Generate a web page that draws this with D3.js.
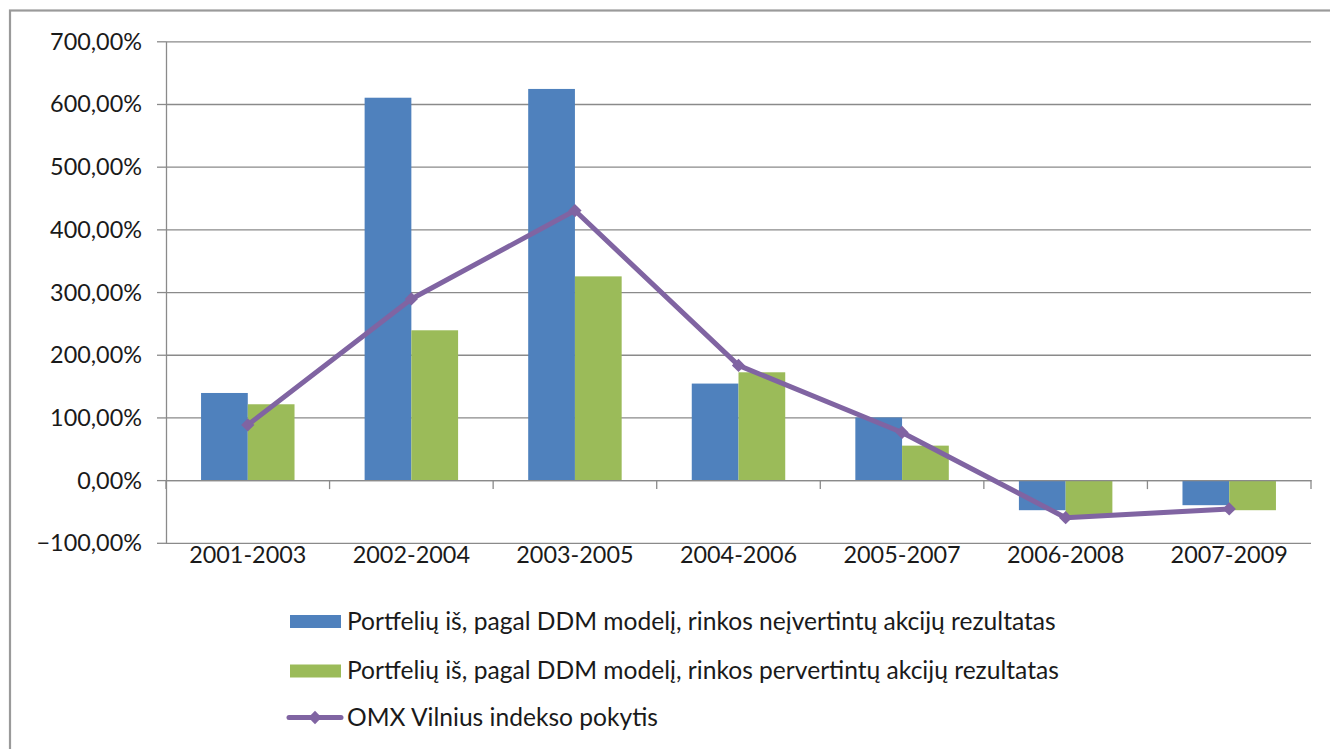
<!DOCTYPE html>
<html>
<head>
<meta charset="utf-8">
<script src="https://cdn.jsdelivr.net/npm/d3@7"></script>
<style>
  html, body { margin: 0; padding: 0; background: #fff; }
  svg { display: block; }
  text { font-family: Lato, "Open Sans", sans-serif; fill: #1a1a1a; }
</style>
</head>
<body>
<script>
const categories = ["2001-2003","2002-2004","2003-2005","2004-2006","2005-2007","2006-2008","2007-2009"];
const undervalued = [139, 610, 624, 154, 100, -48, -40];
const overvalued  = [121, 239, 325, 172, 55, -56, -48];
const omx         = [88, 289, 430, 183, 76, -60, -46];
const yTicks = [-100, 0, 100, 200, 300, 400, 500, 600, 700];
const seriesNames = [
  "Portfelių iš, pagal DDM modelį, rinkos neįvertintų akcijų rezultatas",
  "Portfelių iš, pagal DDM modelį, rinkos pervertintų akcijų rezultatas",
  "OMX Vilnius indekso pokytis"
];
const colors = ["#4F81BD", "#9BBB59", "#8064A2"];

(function () {
const W = 1330, H = 749;
const pLeft = 166, pRight = 1311, pTop = 41.3, pBottom = 542.8;

const svg = d3.select("body").append("svg").attr("width", W).attr("height", H);

// outer frame
svg.append("rect").attr("x", 10).attr("y", 10.5).attr("width", 1400).attr("height", 900)
  .attr("fill", "none").attr("stroke", "#9a9a9a").attr("stroke-width", 2.2);

const y = d3.scaleLinear().domain([-100, 700]).range([pBottom, pTop]);
const x = d3.scaleBand().domain(categories).range([pLeft, pRight]).padding(0);
const xs = d3.scaleBand().domain([0, 1]).range([0, x.bandwidth()]).paddingInner(0).paddingOuter(0.75);

const loc = d3.formatLocale({decimal: ",", thousands: " ", grouping: [3], currency: ["", ""]});
const fmt = v => loc.format(".2f")(v) + "%";

// gridlines
const grid = svg.append("g").attr("transform", `translate(${pLeft},0)`)
  .call(d3.axisLeft(y).tickValues(yTicks).tickSize(-(pRight - pLeft)).tickFormat(""));
grid.select(".domain").remove();
grid.selectAll("line").attr("stroke", "#8a8a8a").attr("stroke-width", 1.3);

// y axis with outward ticks and labels
const yAxis = svg.append("g").attr("transform", `translate(${pLeft},0)`)
  .call(d3.axisLeft(y).tickValues(yTicks).tickSize(9).tickSizeOuter(0).tickPadding(15).tickFormat(fmt));
yAxis.select(".domain").attr("stroke", "#8a8a8a").attr("stroke-width", 1.3);
yAxis.selectAll("line").attr("stroke", "#8a8a8a").attr("stroke-width", 1.3);
yAxis.selectAll("text").attr("font-size", 23.4).attr("dy", "0.34em")
  .style("font-family", "Lato, sans-serif").attr("fill", "#1a1a1a");

// bars
const barData = [];
categories.forEach((c, i) => {
  barData.push({c, s: 0, v: undervalued[i]});
  barData.push({c, s: 1, v: overvalued[i]});
});
svg.append("g").selectAll("rect").data(barData).join("rect")
  .attr("x", d => x(d.c) + xs(d.s))
  .attr("width", xs.bandwidth())
  .attr("y", d => Math.min(y(d.v), y(0)))
  .attr("height", d => Math.abs(y(d.v) - y(0)))
  .attr("fill", d => colors[d.s]);

// category axis at zero
const xAxis = svg.append("g").attr("transform", `translate(0,${y(0)})`)
  .call(d3.axisBottom(x).tickSize(0).tickFormat(""));
xAxis.select(".domain").attr("stroke", "#8a8a8a").attr("stroke-width", 1.3);
xAxis.selectAll(".tick").remove();
const edges = categories.map(c => x(c)).concat([x(categories[categories.length - 1]) + x.bandwidth()]);
xAxis.selectAll("line.edge").data(edges).join("line").attr("class", "edge")
  .attr("x1", d => d).attr("x2", d => d).attr("y1", 0).attr("y2", 9)
  .attr("stroke", "#8a8a8a").attr("stroke-width", 1.3);

// category labels
svg.append("g").selectAll("text").data(categories).join("text")
  .attr("x", d => x(d) + x.bandwidth() / 2)
  .attr("y", 563.3)
  .attr("text-anchor", "middle")
  .attr("font-size", 23.4)
  .text(d => d);

// line series
const line = d3.line().x((d, i) => x(categories[i]) + x.bandwidth() / 2).y(d => y(d));
svg.append("path").datum(omx).attr("d", line)
  .attr("fill", "none").attr("stroke", colors[2]).attr("stroke-width", 5)
  .attr("stroke-linejoin", "round");
const diamond = d3.symbol().type(d3.symbolSquare).size(88);
svg.append("g").selectAll("path").data(omx).join("path")
  .attr("d", diamond)
  .attr("transform", (d, i) => `translate(${x(categories[i]) + x.bandwidth() / 2},${y(d)}) rotate(45)`)
  .attr("fill", colors[2]);

// legend
const lg = svg.append("g");
const legY = [621.5, 671, 717.5];
[0, 1].forEach(i => {
  lg.append("rect").attr("x", 290).attr("y", legY[i] - 6.5).attr("width", 51).attr("height", 13)
    .attr("fill", colors[i]);
});
lg.append("line").attr("x1", 289).attr("x2", 341).attr("y1", legY[2]).attr("y2", legY[2])
  .attr("stroke", colors[2]).attr("stroke-width", 5).attr("stroke-linecap", "round");
lg.append("path").attr("d", diamond).attr("transform", `translate(315,${legY[2]}) rotate(45)`)
  .attr("fill", colors[2]);
seriesNames.forEach((n, i) => {
  lg.append("text").attr("x", 347).attr("y", legY[i] + 8).attr("font-size", 24.6).text(n);
});
})();
</script>
</body>
</html>
